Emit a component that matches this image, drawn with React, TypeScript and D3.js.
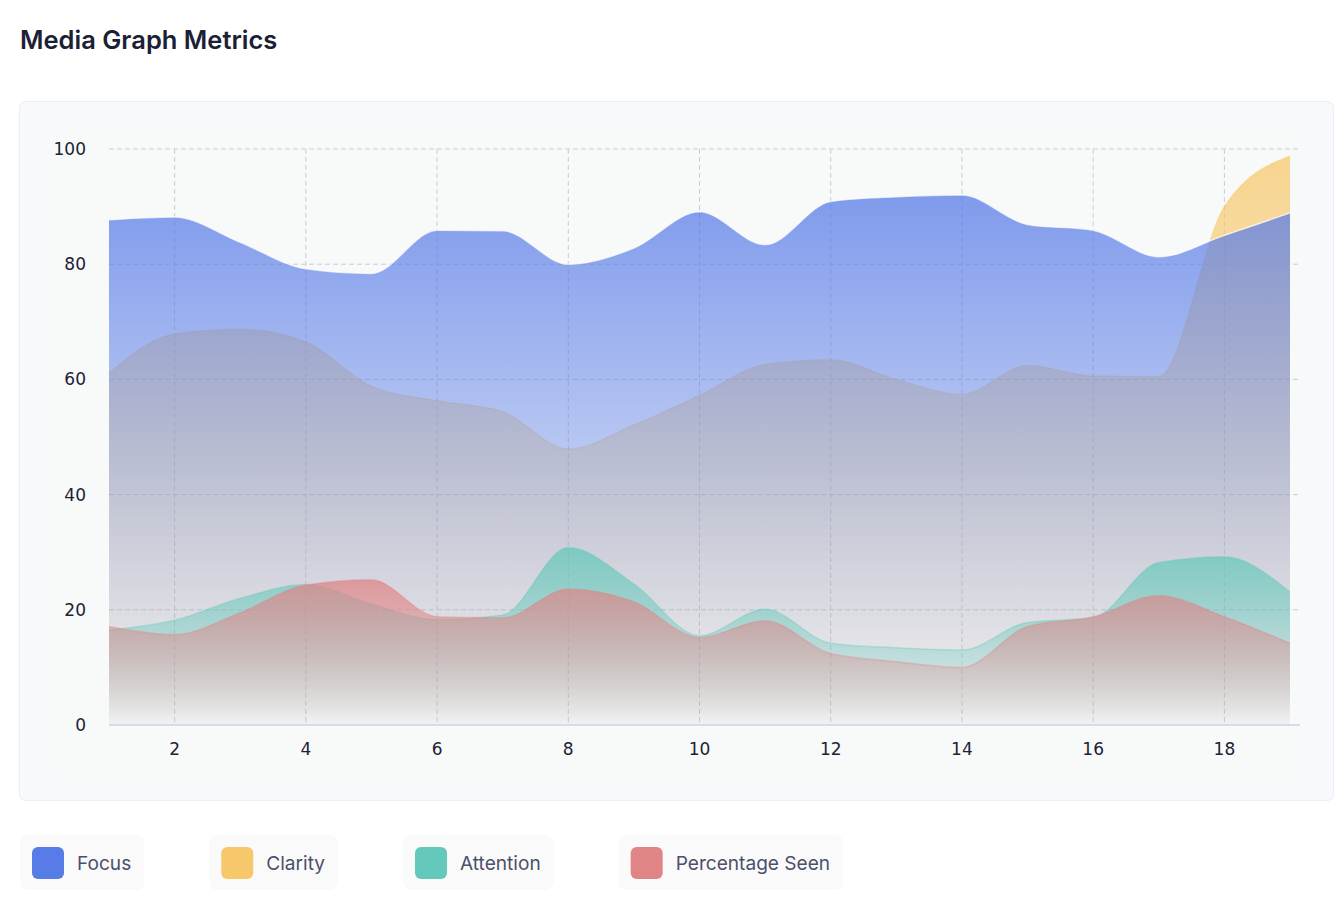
import { useEffect, useRef } from "react";
import * as d3 from "d3";

const days = [1, 2, 3, 4, 5, 6, 7, 8, 9, 10, 11, 12, 13, 14, 15, 16, 17, 18, 19];
const focus = [87.7, 88.2, 83.8, 79.2, 78.4, 85.9, 85.8, 80.0, 82.8, 89.1, 83.4, 90.9, 91.7, 92.0, 86.9, 85.9, 81.3, 85.0, 88.9];
const clarity = [61.1, 67.9, 68.7, 66.5, 58.8, 56.3, 54.4, 47.9, 52.1, 57.2, 62.6, 63.4, 60.0, 57.4, 62.4, 60.6, 60.5, 90.0, 98.8];
const attention = [16.5, 18.2, 22.0, 24.4, 21.0, 18.3, 19.1, 30.8, 24.5, 15.5, 20.1, 14.2, 13.4, 13.0, 17.8, 18.6, 28.2, 29.2, 23.1];
const percentageSeen = [17.1, 15.7, 19.5, 24.3, 25.2, 18.8, 18.6, 23.6, 21.4, 15.2, 18.1, 12.4, 11.0, 10.0, 17.1, 18.8, 22.5, 18.8, 14.2];

const yTicks = [0, 20, 40, 60, 80, 100];
const xTicks = [2, 4, 6, 8, 10, 12, 14, 16, 18];

// drawing order: clarity sits under focus, then attention and percentage seen on top
const series = [
  { key: "clarity", name: "Clarity", color: "#f7c86b", values: clarity },
  { key: "focus", name: "Focus", color: "#577be7", values: focus },
  { key: "attention", name: "Attention", color: "#64c8ba", values: attention },
  { key: "seen", name: "Percentage Seen", color: "#e08486", values: percentageSeen },
];
const legendOrder = ["focus", "clarity", "attention", "seen"];

export default function App() {
  const svgRef = useRef<SVGSVGElement>(null);

  useEffect(() => {
    const width = 1344;
    const height = 908;
    const svg = d3.select(svgRef.current).attr("width", width).attr("height", height);
    svg.selectAll("*").remove();

    const x = d3.scaleLinear().domain([1, 19]).range([109, 1290]);
    const y = d3.scaleLinear().domain([0, 100]).range([725, 149]);
    const gridRight = 1300;

    // title
    svg
      .append("text")
      .attr("x", 20)
      .attr("y", 49)
      .attr("font-family", "Inter, sans-serif")
      .attr("font-size", 25.5)
      .attr("font-weight", 600)
      .attr("fill", "#1b2134")
      .text("Media Graph Metrics");

    // card
    svg
      .append("rect")
      .attr("x", 19.5)
      .attr("y", 101.5)
      .attr("width", 1314)
      .attr("height", 699)
      .attr("rx", 6)
      .attr("fill", "#f8f9fc")
      .attr("stroke", "#eceef4");
    svg
      .append("rect")
      .attr("x", 52)
      .attr("y", 125)
      .attr("width", gridRight - 52)
      .attr("height", 782 - 125)
      .attr("fill", "#f8f9f9");

    const defs = svg.append("defs");
    series.forEach((s) => {
      const g = defs
        .append("linearGradient")
        .attr("id", `grad-${s.key}`)
        .attr("x1", 0)
        .attr("y1", 0)
        .attr("x2", 0)
        .attr("y2", 1);
      g.append("stop").attr("offset", "0%").attr("stop-color", s.color).attr("stop-opacity", 0.75);
      g.append("stop").attr("offset", "100%").attr("stop-color", s.color).attr("stop-opacity", 0.02);
    });

    // grid
    const grid = svg.append("g").attr("stroke", "#c9ccd3").attr("stroke-dasharray", "5 3");
    grid
      .selectAll("line.h")
      .data(yTicks.filter((t) => t > 0))
      .enter()
      .append("line")
      .attr("x1", x(1))
      .attr("x2", gridRight)
      .attr("y1", (d) => y(d))
      .attr("y2", (d) => y(d));
    grid
      .selectAll("line.v")
      .data(xTicks)
      .enter()
      .append("line")
      .attr("x1", (d) => x(d))
      .attr("x2", (d) => x(d))
      .attr("y1", y(100))
      .attr("y2", y(0));

    // areas
    const area = d3
      .area<number>()
      .x((_, i) => x(days[i]))
      .y0(y(0))
      .y1((d) => y(d))
      .curve(d3.curveMonotoneX);
    const line = d3
      .line<number>()
      .x((_, i) => x(days[i]))
      .y((d) => y(d))
      .curve(d3.curveMonotoneX);

    series.forEach((s) => {
      svg.append("path").attr("d", area(s.values)).attr("fill", `url(#grad-${s.key})`);
      svg
        .append("path")
        .attr("d", line(s.values))
        .attr("fill", "none")
        .attr("stroke", s.key === "focus" ? "#ffffff" : s.color)
        .attr("stroke-opacity", s.key === "focus" ? 0.7 : 0.35)
        .attr("stroke-width", 1.5);
    });

    // x axis line
    svg
      .append("line")
      .attr("x1", x(1))
      .attr("x2", gridRight)
      .attr("y1", y(0))
      .attr("y2", y(0))
      .attr("stroke", "#ced2e6")
      .attr("stroke-width", 1.5);

    const tickFont = "'DejaVu Sans', sans-serif";
    svg
      .append("g")
      .selectAll("text")
      .data(yTicks)
      .enter()
      .append("text")
      .attr("x", 86)
      .attr("y", (d) => y(d))
      .attr("dy", "0.35em")
      .attr("text-anchor", "end")
      .attr("font-family", tickFont)
      .attr("font-size", 17)
      .attr("fill", "#1d2233")
      .text((d) => d);
    svg
      .append("g")
      .selectAll("text")
      .data(xTicks)
      .enter()
      .append("text")
      .attr("x", (d) => x(d))
      .attr("y", 749)
      .attr("dy", "0.35em")
      .attr("text-anchor", "middle")
      .attr("font-family", tickFont)
      .attr("font-size", 17)
      .attr("fill", "#1d2233")
      .text((d) => d);

    // legend
    let bx = 20;
    legendOrder.forEach((k) => {
      const s = series.find((d) => d.key === k)!;
      const g = svg.append("g");
      const box = g.append("rect");
      g.append("rect")
        .attr("x", bx + 12)
        .attr("y", 847)
        .attr("width", 32)
        .attr("height", 32)
        .attr("rx", 6)
        .attr("fill", s.color);
      const t = g
        .append("text")
        .attr("x", bx + 57)
        .attr("y", 863)
        .attr("dy", "0.35em")
        .attr("font-family", "Inter, sans-serif")
        .attr("font-size", 19.1)
        .attr("fill", "#4b4f6b")
        .text(s.name);
      const tw = (t.node() as SVGTextElement).getComputedTextLength();
      const bw = 57 + tw + 13;
      box
        .attr("x", bx)
        .attr("y", 835)
        .attr("width", bw)
        .attr("height", 55)
        .attr("rx", 8)
        .attr("fill", "#fafafa");
      bx += bw + 65;
    });
  }, []);

  return (
    <div style={{ position: "absolute", left: 0, top: 0 }}>
      <svg ref={svgRef} style={{ display: "block" }}></svg>
    </div>
  );
}
